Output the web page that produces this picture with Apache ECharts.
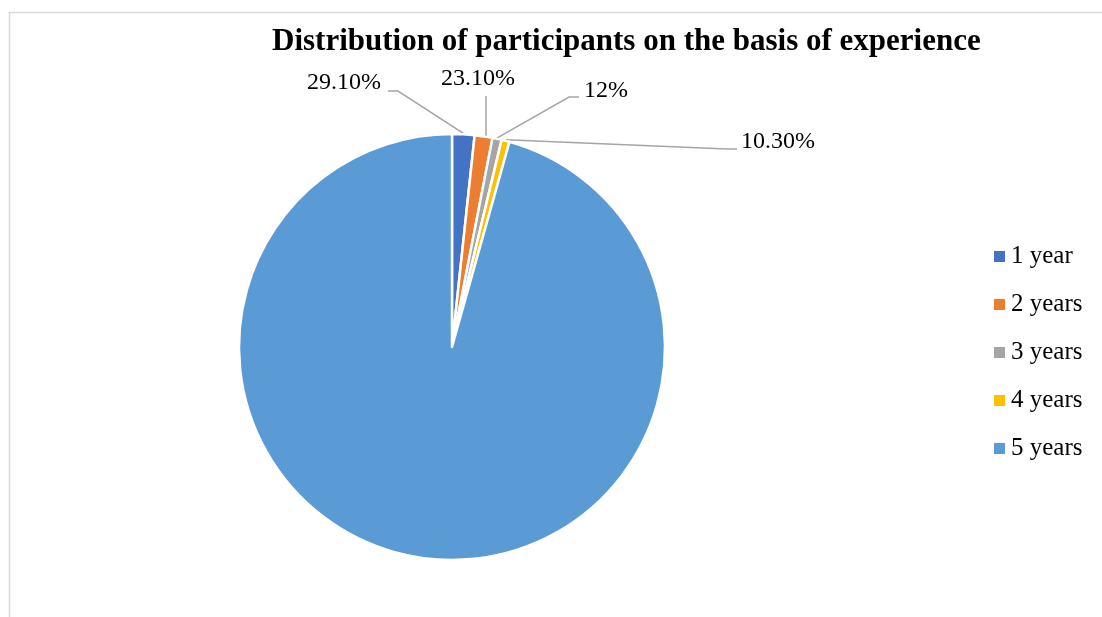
<!DOCTYPE html>
<html>
<head>
<meta charset="utf-8">
<script src="https://cdn.jsdelivr.net/npm/echarts@6/dist/echarts.min.js"></script>
<style>html,body{margin:0;padding:0;background:#fff;}#c{width:1102px;height:617px;}</style>
</head>
<body>
<div id="c"></div>
<script>
const categories = ['1 year', '2 years', '3 years', '4 years', '5 years'];
const values = [29.1, 23.1, 12, 10.3, 1640];
const labelTexts = ['29.10%', '23.10%', '12%', '10.30%', ''];
const colors = ['#4472C4', '#ED7D31', '#A5A5A5', '#FFC000', '#5B9BD5'];

const FONT = '"Liberation Serif", "DejaVu Serif", serif';
const CX = 452, CY = 347, R = 213;

// start point of a leader line: on the rim at the slice's middle angle
function rimPoint(i) {
  const total = values.reduce((a, b) => a + b, 0);
  let cum = 0;
  for (let k = 0; k < i; k++) cum += values[k];
  const a = (cum + values[i] / 2) / total * 2 * Math.PI;
  return [CX + (R + 1) * Math.sin(a), CY - (R + 1) * Math.cos(a)];
}

// label placement (style only)
const labelPlace = [
  { x: 381, y: 83, align: 'right', pts: (s) => [s, [398, 91], [388, 91]] },
  { x: 478, y: 79, align: 'center', pts: (s) => [[486, s[1] + 2], [486, 96]] },
  { x: 584, y: 91, align: 'left', pts: (s) => [s, [569, 97], [579, 97]] },
  { x: 741, y: 142, align: 'left', pts: (s) => [s, [727, 149], [737, 149]] },
  null
];

const chart = echarts.init(document.getElementById('c'), null, { renderer: 'canvas' });
chart.setOption({
  backgroundColor: '#fff',
  animation: false,
  graphic: [{
    type: 'rect',
    shape: { x: 9.5, y: 12.5, width: 1200, height: 700 },
    style: { fill: 'none', stroke: '#d9d9d9', lineWidth: 1.5 },
    silent: true, z: -1
  }],
  title: {
    text: 'Distribution of participants on the basis of experience',
    left: 267, top: 21,
    textStyle: { fontFamily: FONT, fontWeight: 'bold', fontSize: 31, color: '#000' }
  },
  legend: {
    orient: 'vertical',
    left: 992, top: 244,
    padding: 0,
    icon: 'rect', itemWidth: 13, itemHeight: 13,
    itemGap: 23,
    data: categories,
    textStyle: { fontFamily: FONT, fontSize: 25, color: '#000', lineHeight: 25 }
  },
  series: [{
    type: 'pie',
    center: [CX, CY],
    radius: R,
    startAngle: 90,
    clockwise: true,
    data: categories.map((c, i) => ({
      name: c, value: values[i], itemStyle: { color: colors[i] },
      label: { show: !!labelTexts[i] }, labelLine: { show: !!labelTexts[i] }
    })),
    itemStyle: { borderColor: '#fff', borderWidth: 2.5 },
    label: {
      show: true, position: 'outside',
      formatter: (p) => labelTexts[p.dataIndex],
      fontFamily: FONT, fontSize: 24, color: '#000'
    },
    labelLine: { show: true, length: 20, length2: 10, lineStyle: { color: '#A5A5A5', width: 1.5 } },
    labelLayout: (params) => {
      const lp = labelPlace[params.dataIndex];
      if (!lp) return {};
      const s = rimPoint(params.dataIndex);
      return { x: lp.x, y: lp.y, align: lp.align, verticalAlign: 'middle', labelLinePoints: lp.pts(s) };
    },
    emphasis: { disabled: true }
  }]
});
</script>
</body>
</html>
